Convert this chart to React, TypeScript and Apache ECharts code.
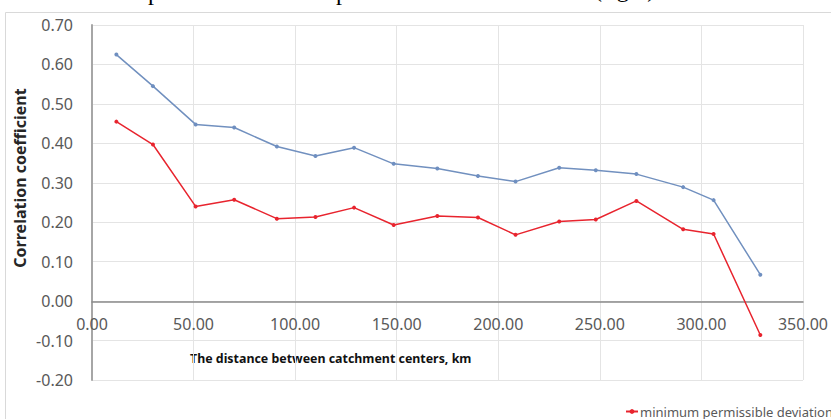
import React, { useEffect, useRef } from "react";
import * as echarts from "echarts";

const distances = [12, 30, 51, 70, 91, 110, 129, 148.5, 170, 190, 208.5, 230, 248, 268, 291, 306, 329];
const correlation = [0.625, 0.545, 0.448, 0.44, 0.392, 0.368, 0.389, 0.348, 0.336, 0.317, 0.303, 0.338, 0.332, 0.322, 0.289, 0.256, 0.067];
const minDeviation = [0.455, 0.397, 0.24, 0.257, 0.209, 0.213, 0.237, 0.193, 0.216, 0.212, 0.168, 0.202, 0.207, 0.254, 0.182, 0.17, -0.086];

const seriesNames = ["correlation coefficient", "minimum permissible deviation"];
const xTitle = "The distance between catchment centers, km";
const yTitle = "Correlation coefficient";

const tickFont = "'Noto Sans', 'Open Sans', sans-serif";

export default function App() {
  const ref = useRef<HTMLDivElement>(null);
  useEffect(() => {
    if (!ref.current) return;
    const chart = echarts.init(ref.current, null, { renderer: "svg" });
    chart.setOption({
      animation: false,
      backgroundColor: "#ffffff",
      grid: { left: 92, right: 25, top: 25, bottom: 39, containLabel: false },
      legend: {
        data: [seriesNames[1]],
        left: 620,
        top: 400,
        itemWidth: 12,
        itemHeight: 6,
        itemGap: 2,
        textStyle: { color: "#595959", fontSize: 13, fontFamily: tickFont, padding: [0, 0, 0, -3] },
      },
      xAxis: [
        {
          type: "value",
          min: 0,
          max: 350,
          interval: 50,
          axisLine: { show: false },
          axisTick: { show: false },
          axisLabel: { show: false },
          splitLine: { show: true, lineStyle: { color: "#e4e4e4", width: 1 } },
        },
        {
          type: "value",
          min: 0,
          max: 350,
          interval: 50,
          position: "bottom",
          offset: -78,
          axisLine: { show: true, onZero: false, lineStyle: { color: "#8a8a8a", width: 1.5 } },
          axisTick: { show: false },
          axisLabel: {
            formatter: (v: number) => v.toFixed(2),
            color: "#595959",
            fontSize: 16,
            fontFamily: tickFont,
            margin: 14,
          },
          splitLine: { show: false },
        },
      ],
      yAxis: {
        type: "value",
        min: -0.2,
        max: 0.7,
        interval: 0.1,
        axisLine: { show: true, onZero: false, lineStyle: { color: "#a6a6a6", width: 2 } },
        axisTick: { show: false },
        axisLabel: {
          formatter: (v: number) => v.toFixed(2),
          color: "#595959",
          fontSize: 16,
          fontFamily: tickFont,
          margin: 19,
        },
        splitLine: { show: true, lineStyle: { color: "#e4e4e4", width: 1 } },
      },
      graphic: [
        {
          type: "rect",
          shape: { x: 5.5, y: 12.5, width: 840, height: 420 },
          style: { fill: "none", stroke: "#d9d9d9", lineWidth: 1 },
          silent: true,
          z: -1,
        },
        {
          type: "text",
          x: 20,
          y: 178,
          rotation: Math.PI / 2,
          style: {
            text: yTitle,
            fill: "#262626",
            font: `bold 16px ${tickFont}`,
            textAlign: "center",
            textVerticalAlign: "middle",
          },
        },
        {
          type: "text",
          x: 190,
          y: 358,
          style: {
            text: xTitle,
            fill: "#111111",
            font: `bold 12.4px ${tickFont}`,
            textAlign: "left",
            textVerticalAlign: "middle",
          },
        },
        {
          type: "text",
          x: 148,
          y: -20,
          style: { text: "p", fill: "#000", font: "24px 'Liberation Serif', serif" },
        },
        {
          type: "text",
          x: 336,
          y: -20,
          style: { text: "p", fill: "#000", font: "24px 'Liberation Serif', serif" },
        },
        {
          type: "text",
          x: 594,
          y: -23,
          style: { text: "(right)", fill: "#000", font: "24px 'Liberation Serif', serif" },
        },
      ],
      series: [
        {
          name: seriesNames[0],
          type: "line",
          xAxisIndex: 0,
          data: distances.map((d, i) => [d, correlation[i]]),
          symbol: "circle",
          symbolSize: 4,
          itemStyle: { color: "#6f8fc0" },
          lineStyle: { color: "#7190bf", width: 1.5 },
        },
        {
          name: seriesNames[1],
          type: "line",
          xAxisIndex: 0,
          data: distances.map((d, i) => [d, minDeviation[i]]),
          symbol: "circle",
          symbolSize: 4,
          itemStyle: { color: "#e8242e" },
          lineStyle: { color: "#e8242e", width: 1.5 },
        },
      ],
    });
    return () => chart.dispose();
  }, []);
  return (
    <div
      ref={ref}
      style={{ position: "absolute", left: 0, top: 0, width: 831, height: 419 }}
    />
  );
}
